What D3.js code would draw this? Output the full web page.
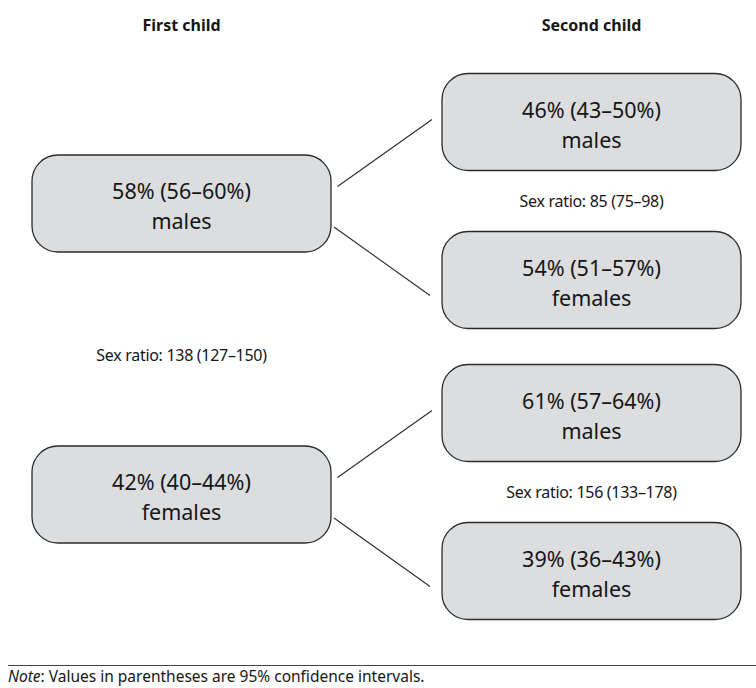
<!DOCTYPE html>
<html>
<head>
<meta charset="utf-8">
<script src="https://cdn.jsdelivr.net/npm/d3@7"></script>
<style>
  html, body { margin: 0; padding: 0; background: #fff; }
  svg { display: block; }
  text { font-family: "Noto Sans", "Open Sans", sans-serif; fill: #161616; }
</style>
</head>
<body>
<svg id="chart" width="756" height="688"></svg>
<script>
// ---- data ----
const columnHeaders = ["First child", "Second child"];
const firstChildSex = ["males", "females"];
const firstChildPct = [58, 42];
const firstChildLo = [56, 40];
const firstChildHi = [60, 44];
const secondChildSex = [["males", "females"], ["males", "females"]];
const secondChildPct = [[46, 54], [61, 39]];
const secondChildLo = [[43, 51], [57, 36]];
const secondChildHi = [[50, 57], [64, 43]];
const sexRatioValue = [138, 85, 156];
const sexRatioLo = [127, 75, 133];
const sexRatioHi = [150, 98, 178];
const noteText = "Values in parentheses are 95% confidence intervals.";

// ---- layout ----
const W = 756, H = 688;
const boxW = 299, boxH = 97, radius = 26;
const svg = d3.select("#chart");

const xCol = d3.scalePoint().domain([0, 1]).range([181.5, 591.5]);
const yGroup = d3.scalePoint().domain([0, 1]).range([201, 492]);
const pairOffset = 79;
const leftShift = 2.5;

const fmtCI = (p, lo, hi) => `${p}% (${lo}\u2013${hi}%)`;

function drawBox(cx, cy, line1, line2) {
  const g = svg.append("g");
  g.append("rect")
    .attr("x", cx - boxW / 2).attr("y", cy - boxH / 2)
    .attr("width", boxW).attr("height", boxH)
    .attr("rx", radius).attr("ry", radius)
    .attr("fill", "#dcdddf").attr("stroke", "#2b2b2b").attr("stroke-width", 1.3);
  g.append("text").attr("x", cx).attr("y", cy - 4.5)
    .attr("text-anchor", "middle").attr("font-size", 21.5).text(line1);
  g.append("text").attr("x", cx).attr("y", cy + 25.5)
    .attr("text-anchor", "middle").attr("font-size", 21.5).text(line2);
}

// headers
columnHeaders.forEach((h, i) => {
  svg.append("text").attr("x", xCol(i)).attr("y", 31)
    .attr("text-anchor", "middle").attr("font-size", 16).attr("font-weight", "bold")
    .text(h);
});

// connectors
firstChildPct.forEach((p, gi) => {
  const lcy = yGroup(gi) + leftShift;
  const lx = xCol(0) + boxW / 2;
  const rx = xCol(1) - boxW / 2;
  const conns = [
    { y1: lcy - 17, y2: yGroup(gi) - pairOffset - 2.5, x1: lx + 6.5, x2: rx - 10 },
    { y1: lcy + 23.5, y2: yGroup(gi) + pairOffset + 15.5, x1: lx + 3, x2: rx - 12 }
  ];
  conns.forEach(c => {
    svg.append("line").attr("x1", c.x1).attr("y1", c.y1).attr("x2", c.x2).attr("y2", c.y2)
      .attr("stroke", "#2b2b2b").attr("stroke-width", 1.1);
  });
});

// first child boxes
firstChildPct.forEach((p, i) => {
  drawBox(xCol(0), yGroup(i) + leftShift, fmtCI(p, firstChildLo[i], firstChildHi[i]), firstChildSex[i]);
});

// second child boxes
secondChildPct.forEach((pair, gi) => {
  pair.forEach((p, j) => {
    const cy = yGroup(gi) + (j === 0 ? -pairOffset : pairOffset);
    drawBox(xCol(1), cy, fmtCI(p, secondChildLo[gi][j], secondChildHi[gi][j]), secondChildSex[gi][j]);
  });
});

// sex ratio labels
const ratioPos = [
  { x: xCol(0), y: (yGroup(0) + yGroup(1)) / 2 + 8.5 },
  { x: xCol(1), y: yGroup(0) },
  { x: xCol(1), y: yGroup(1) }
];
sexRatioValue.forEach((v, i) => {
  svg.append("text").attr("x", ratioPos[i].x).attr("y", ratioPos[i].y)
    .attr("text-anchor", "middle").attr("dominant-baseline", "central")
    .attr("font-size", 16).attr("letter-spacing", -0.3)
    .text(`Sex ratio: ${v} (${sexRatioLo[i]}\u2013${sexRatioHi[i]})`);
});

// note
svg.append("line").attr("x1", 8).attr("x2", W).attr("y1", 665.5).attr("y2", 665.5)
  .attr("stroke", "#444").attr("stroke-width", 1);
const note = svg.append("text").attr("x", 8).attr("y", 682).attr("font-size", 15.5);
note.append("tspan").attr("font-style", "italic").text("Note");
note.append("tspan").text(": " + noteText);
</script>
</body>
</html>
